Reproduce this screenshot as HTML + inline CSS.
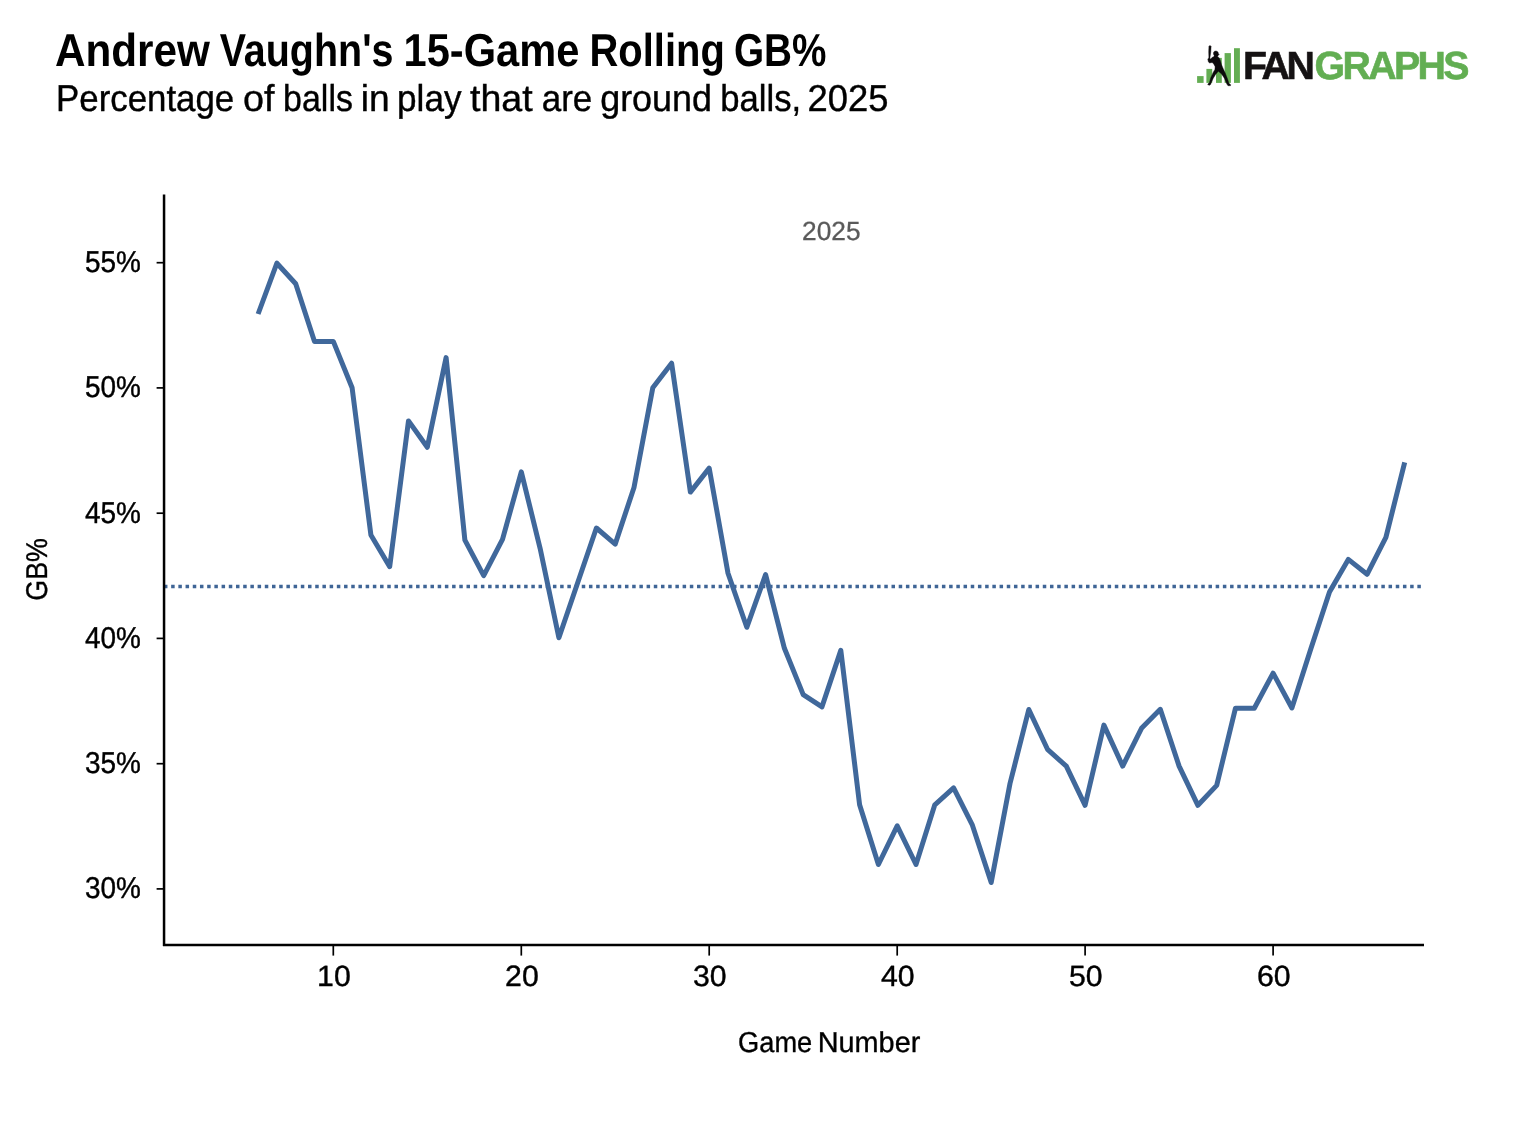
<!DOCTYPE html>
<html lang="en">
<head>
<meta charset="utf-8">
<title>Andrew Vaughn's 15-Game Rolling GB%</title>
<style>
html,body{margin:0;padding:0;background:#fff;}
body{width:1520px;height:1132px;overflow:hidden;font-family:"Liberation Sans",sans-serif;}
svg{display:block;position:absolute;left:0;top:0;}
text{font-family:"Liberation Sans",sans-serif;text-rendering:geometricPrecision;}
</style>
</head>
<body>
<svg width="1520" height="1132" viewBox="0 0 1520 1132">
<rect width="1520" height="1132" fill="#ffffff"/>
<!-- titles -->
<text id="title" y="65.9" font-size="46.1" font-weight="700" fill="#000"><tspan x="54.9" textLength="155.0" lengthAdjust="spacingAndGlyphs">Andrew</tspan> <tspan x="219.7" textLength="173.8" lengthAdjust="spacingAndGlyphs">Vaughn's</tspan> <tspan x="403.5" textLength="175.8" lengthAdjust="spacingAndGlyphs">15-Game</tspan> <tspan x="589.5" textLength="135.3" lengthAdjust="spacingAndGlyphs">Rolling</tspan> <tspan x="733.9" textLength="92.5" lengthAdjust="spacingAndGlyphs">GB%</tspan></text>
<text id="subtitle" y="110.7" font-size="37.4" fill="#000" stroke="#000" stroke-width="0.4"><tspan x="56.1" textLength="178.1" lengthAdjust="spacingAndGlyphs">Percentage</tspan> <tspan x="243.0" textLength="31.4" lengthAdjust="spacingAndGlyphs">of</tspan> <tspan x="283.1" textLength="69.8" lengthAdjust="spacingAndGlyphs">balls</tspan> <tspan x="360.8" textLength="28.9" lengthAdjust="spacingAndGlyphs">in</tspan> <tspan x="397.1" textLength="64.4" lengthAdjust="spacingAndGlyphs">play</tspan> <tspan x="470.0" textLength="62.7" lengthAdjust="spacingAndGlyphs">that</tspan> <tspan x="541.8" textLength="50.5" lengthAdjust="spacingAndGlyphs">are</tspan> <tspan x="600.2" textLength="111.8" lengthAdjust="spacingAndGlyphs">ground</tspan> <tspan x="720.3" textLength="80.9" lengthAdjust="spacingAndGlyphs">balls,</tspan> <tspan x="807.6" textLength="80.9" lengthAdjust="spacingAndGlyphs">2025</tspan></text>
<!-- logo -->
<g id="logo">
<g fill="#64ad53">
<rect x="1197.1" y="76.1" width="6.5" height="6.8"/>
<rect x="1206.4" y="68.9" width="5.8" height="14"/>
<rect x="1216" y="57.9" width="5.8" height="25"/>
<rect x="1224.6" y="53.1" width="6.3" height="29.8"/>
<rect x="1234" y="48.2" width="5.9" height="34.7"/>
</g>
<g transform="translate(1194 40) scale(0.045935)" fill="#0d0b0c" stroke="#0d0b0c" stroke-width="9" stroke-linejoin="round">
<path d="M325,140 L335,125 L360,125 L372,140 L365,260 L345,395 L325,395 L320,260 Z"/>
<path d="M300,420 L315,395 L345,390 L355,420 L400,375 L430,365 L440,340 L425,310 C415,260 445,240 475,240 C510,240 530,265 530,295 L550,315 L525,325 L525,350 L510,365 L545,385 L575,450 L600,540 L625,600 L680,720 L730,850 L760,940 L800,975 L795,995 L740,995 L715,960 L660,830 L600,740 L530,680 L470,750 L420,830 L375,930 L365,965 L340,985 L300,975 L305,955 L335,930 L365,820 L420,700 L455,640 L460,580 L430,520 L395,490 L340,500 L315,480 Z"/>
</g>
<text id="fan" x="1242.9" y="79.1" font-size="39.3" font-weight="700" fill="#151213" stroke="#151213" stroke-width="0.6" letter-spacing="-3.3">FAN</text>
<text id="graphs" x="1314.6" y="79.1" font-size="39.3" font-weight="700" fill="#62ae52" stroke="#62ae52" stroke-width="0.6" letter-spacing="-2.65">GRAPHS</text>
</g>
<!-- facet label -->
<text id="facet" x="831.3" y="239.9" font-size="26.3" fill="#5a5a5a" stroke="#5a5a5a" stroke-width="0.3" text-anchor="middle">2025</text>
<!-- reference dotted line -->
<line x1="163.95" y1="586.45" x2="1421" y2="586.45" stroke="#3f6596" stroke-width="3.6" stroke-dasharray="3.5 3.7035"/>
<!-- data line -->
<polyline fill="none" stroke="#40689b" stroke-width="5.0" stroke-linejoin="round" stroke-linecap="butt" points="258.1,314.0 276.9,263.2 295.7,283.7 314.5,341.4 333.3,341.4 352.1,387.8 370.9,535.0 389.7,566.7 408.5,420.9 427.3,447.3 446.1,357.6 464.9,540.2 483.7,575.7 502.5,539.3 521.3,471.8 540.1,548.3 558.9,637.8 577.6,583.0 596.4,528.0 615.2,544.1 634.0,487.5 652.8,387.8 671.6,363.2 690.4,492.1 709.2,468.1 728.0,573.2 746.8,627.3 765.6,574.6 784.4,648.3 803.2,694.6 822.0,706.8 840.8,650.4 859.6,804.7 878.4,864.5 897.2,825.8 916.0,864.5 934.8,804.8 953.6,787.9 972.4,825.2 991.2,882.5 1010.0,783.5 1028.8,709.5 1047.5,749.3 1066.3,766.2 1085.1,805.3 1103.9,725.1 1122.7,766.1 1141.5,728.3 1160.3,709.3 1179.1,766.1 1197.9,805.3 1216.7,785.4 1235.5,708.2 1254.3,708.2 1273.1,673.1 1291.9,708.0 1310.7,649.3 1329.5,592.0 1348.3,559.4 1367.1,574.3 1385.9,537.4 1404.7,462.3"/>
<!-- axes -->
<g stroke="#000" stroke-width="2.5" fill="none">
<line x1="164.05" y1="194.5" x2="164.05" y2="946"/>
<line x1="163" y1="944.9" x2="1424" y2="944.9"/>
</g>
<g stroke="#000" stroke-width="1.7" fill="none"><line x1="156.6" y1="262.7" x2="164" y2="262.7"/><line x1="156.6" y1="387.9" x2="164" y2="387.9"/><line x1="156.6" y1="513.2" x2="164" y2="513.2"/><line x1="156.6" y1="638.4" x2="164" y2="638.4"/><line x1="156.6" y1="763.7" x2="164" y2="763.7"/><line x1="156.6" y1="888.9" x2="164" y2="888.9"/><line x1="333.3" y1="945" x2="333.3" y2="955.6"/><line x1="521.3" y1="945" x2="521.3" y2="955.6"/><line x1="709.2" y1="945" x2="709.2" y2="955.6"/><line x1="897.2" y1="945" x2="897.2" y2="955.6"/><line x1="1085.1" y1="945" x2="1085.1" y2="955.6"/><line x1="1273.1" y1="945" x2="1273.1" y2="955.6"/></g>
<g font-size="27" fill="#000" stroke="#000" stroke-width="0.4"><text x="84.9" y="272.1" font-size="30.1" textLength="55.9" lengthAdjust="spacingAndGlyphs">55%</text><text x="84.9" y="397.3" font-size="30.1" textLength="55.9" lengthAdjust="spacingAndGlyphs">50%</text><text x="84.9" y="522.6" font-size="30.1" textLength="55.9" lengthAdjust="spacingAndGlyphs">45%</text><text x="84.9" y="647.8" font-size="30.1" textLength="55.9" lengthAdjust="spacingAndGlyphs">40%</text><text x="84.9" y="773.1" font-size="30.1" textLength="55.9" lengthAdjust="spacingAndGlyphs">35%</text><text x="84.9" y="898.3" font-size="30.1" textLength="55.9" lengthAdjust="spacingAndGlyphs">30%</text><text x="333.9" y="986.3" text-anchor="middle" font-size="29.3" textLength="33.6" lengthAdjust="spacingAndGlyphs">10</text><text x="521.9" y="986.3" text-anchor="middle" font-size="29.3" textLength="33.6" lengthAdjust="spacingAndGlyphs">20</text><text x="709.8" y="986.3" text-anchor="middle" font-size="29.3" textLength="33.6" lengthAdjust="spacingAndGlyphs">30</text><text x="897.8" y="986.3" text-anchor="middle" font-size="29.3" textLength="33.6" lengthAdjust="spacingAndGlyphs">40</text><text x="1085.7" y="986.3" text-anchor="middle" font-size="29.3" textLength="33.6" lengthAdjust="spacingAndGlyphs">50</text><text x="1273.7" y="986.3" text-anchor="middle" font-size="29.3" textLength="33.6" lengthAdjust="spacingAndGlyphs">60</text></g>
<!-- axis titles -->
<text id="xlab" y="1052.4" font-size="28.8" fill="#000" stroke="#000" stroke-width="0.35"><tspan x="738.1" textLength="74.1" lengthAdjust="spacingAndGlyphs">Game</tspan> <tspan x="817.7" textLength="102.6" lengthAdjust="spacingAndGlyphs">Number</tspan></text>
<text id="ylab" transform="translate(47.2 569.4) rotate(-90)" font-size="30" fill="#000" stroke="#000" stroke-width="0.35" text-anchor="middle" textLength="62.6" lengthAdjust="spacingAndGlyphs">GB%</text>
</svg>
</body>
</html>
